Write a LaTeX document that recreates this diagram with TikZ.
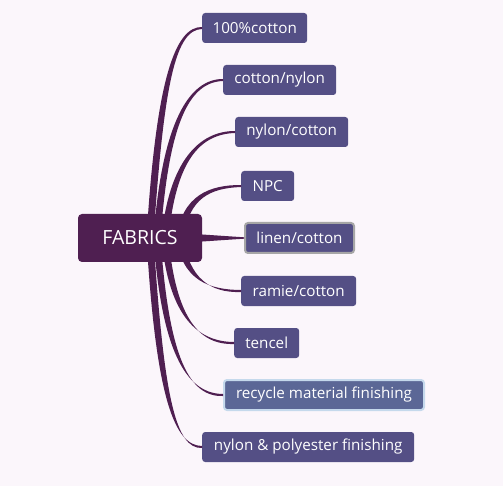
\documentclass[tikz,border=0pt]{standalone}
\usepackage{fontspec}
\setmainfont{Open Sans}
\definecolor{bg}{HTML}{FBF6FB}
\definecolor{central}{HTML}{4F1F51}
\definecolor{boxfill}{HTML}{544F85}
\definecolor{recfill}{HTML}{5B6796}
\definecolor{recborder}{HTML}{C5D9EC}
\definecolor{linborder}{HTML}{A6A6A6}
\begin{document}
\begin{tikzpicture}[x=1pt,y=-1pt,
  topic/.style={fill=boxfill,rounded corners=3pt,text=white,inner sep=0pt,minimum height=30pt,font=\fontsize{15.2}{18}\selectfont,anchor=west},
  root/.style={fill=central,rounded corners=4pt,text=white,inner sep=0pt,font=\fontsize{19.5}{22}\selectfont}]
\fill[bg] (0,0) rectangle (503,486);
\useasboundingbox (0,0) rectangle (503,486);
% child nodes
\node[topic,minimum width=105pt] (c1) at (202,28) {100\%cotton};
\node[topic,minimum width=113pt] (c2) at (223,80) {cotton/nylon};
\node[topic,minimum width=113pt] (c3) at (235,132) {nylon/cotton};
\node[topic,minimum width=53pt] (c4) at (241,186) {NPC};
\node[topic,minimum width=109pt,minimum height=30pt,draw=linborder,line width=2pt] (c5) at (244,238) {linen/cotton};
\node[topic,minimum width=115pt] (c6) at (241,291) {ramie/cotton};
\node[topic,minimum width=65pt] (c7) at (234,343) {tencel};
\node[topic,minimum width=200pt,draw=recborder,line width=2pt,fill=recfill] (c8) at (223,395) {recycle material finishing};
\node[topic,minimum width=212pt] (c9) at (202,447) {nylon \& polyester finishing};
% tapered connectors
\begin{scope}[fill=central]
\fill (146.5,238) .. controls (156,80) and (175,26.5) .. (c1.west|-0,27) -- (c1.west|-0,29) .. controls (176,29.8) and (164,80) .. (153.5,238) -- cycle;
\fill (153.5,238) .. controls (162,120) and (190,78.9) .. (c2.west|-0,79) -- (c2.west|-0,81) .. controls (190,82.2) and (169,120) .. (160.5,238) -- cycle;
\fill (161.5,238) .. controls (169,160) and (200,130.9) .. (c3.west|-0,131) -- (c3.west|-0,133) .. controls (200,134.2) and (176,160) .. (168.5,238) -- cycle;
\fill (176.5,238) .. controls (182,195) and (210,184.9) .. (c4.west|-0,185) -- (c4.west|-0,187) .. controls (210,188.2) and (189,198) .. (183.5,238) -- cycle;
\fill (195,234) -- (c5.west|-0,237.3) -- (c5.west|-0,238.7) -- (195,242) -- cycle;
\fill (176.5,238) .. controls (182,281) and (210,289.8) .. (c6.west|-0,290) -- (c6.west|-0,292) .. controls (210,293.1) and (189,278) .. (183.5,238) -- cycle;
\fill (161.5,238) .. controls (169,320) and (200,341.8) .. (c7.west|-0,342) -- (c7.west|-0,344) .. controls (200,345.1) and (176,320) .. (168.5,238) -- cycle;
\fill (153.5,238) .. controls (162,360) and (190,393.8) .. (c8.west|-0,394) -- (c8.west|-0,396) .. controls (190,397.1) and (169,360) .. (160.5,238) -- cycle;
\fill (146.5,238) .. controls (156,400) and (175,445.8) .. (c9.west|-0,446) -- (c9.west|-0,448) .. controls (176,448.8) and (164,400) .. (153.5,238) -- cycle;
\end{scope}
% central node
\node[root,minimum width=124pt,minimum height=48pt] (fab) at (140,238) {FABRICS};
\end{tikzpicture}
\end{document}
